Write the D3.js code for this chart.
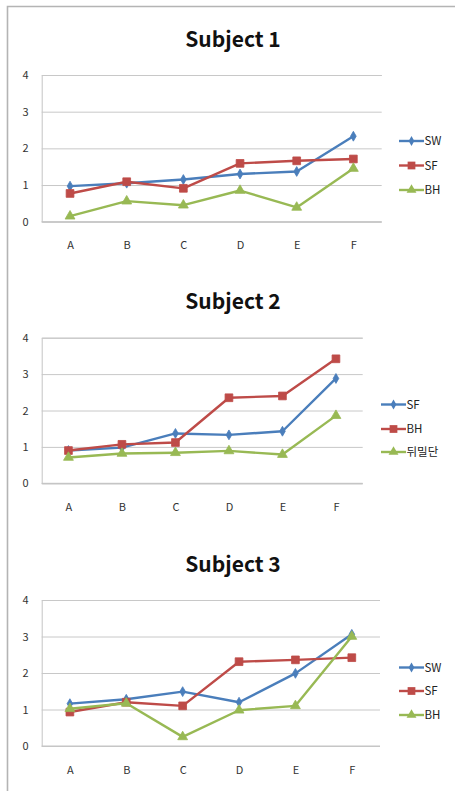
<!DOCTYPE html>
<html>
<head>
<meta charset="utf-8">
<script src="https://cdn.jsdelivr.net/npm/d3@7"></script>
<style>
  html, body { margin: 0; padding: 0; background: #fff; }
  svg { display: block; }
</style>
</head>
<body>
<svg id="chart" width="455" height="791"></svg>
<script>
// Shared axes
const categories = ["A", "B", "C", "D", "E", "F"];
const yTicks = [0, 1, 2, 3, 4];

// Subject 1
const title1 = "Subject 1";
const names1 = ["SW", "SF", "BH"];
const s1a = [0.97, 1.05, 1.15, 1.30, 1.37, 2.33];
const s1b = [0.77, 1.09, 0.91, 1.59, 1.66, 1.71];
const s1c = [0.15, 0.56, 0.45, 0.85, 0.39, 1.45];

// Subject 2
const title2 = "Subject 2";
const names2 = ["SF", "BH", "뒤밀단"];
const s2a = [0.90, 0.98, 1.37, 1.33, 1.43, 2.88];
const s2b = [0.90, 1.07, 1.12, 2.35, 2.40, 3.42];
const s2c = [0.71, 0.82, 0.84, 0.89, 0.79, 1.86];

// Subject 3
const title3 = "Subject 3";
const names3 = ["SW", "SF", "BH"];
const s3a = [1.16, 1.28, 1.49, 1.20, 1.99, 3.06];
const s3b = [0.93, 1.20, 1.10, 2.31, 2.36, 2.42];
const s3c = [1.02, 1.17, 0.25, 0.98, 1.10, 3.00];

const colors = ["#4a7ebb", "#be4b48", "#98b954"];
const symbols = [d3.symbolDiamond, d3.symbolSquare, d3.symbolTriangle];
const symbolSizes = [28, 60, 42];

const svg = d3.select("#chart");

// outer frame (top and left edges)
svg.append("path")
  .attr("d", "M7.5,791 V6.5 H455")
  .attr("fill", "none")
  .attr("stroke", "#b4b4b4")
  .attr("stroke-width", 1.6);

const panels = [
  { title: title1, names: names1, series: [s1a, s1b, s1c],
    x0: 41.7, x1: 381.7, yBottom: 221.7, yTop: 75, titleY: 46.7,
    legendX: 399, legendY: [141, 165.5, 190] },
  { title: title2, names: names2, series: [s2a, s2b, s2c],
    x0: 41.7, x1: 362.7, yBottom: 483.3, yTop: 337.7, titleY: 309.3,
    legendX: 381, legendY: [404.5, 429, 452] },
  { title: title3, names: names3, series: [s3a, s3b, s3c],
    x0: 41.7, x1: 380, yBottom: 746, yTop: 600, titleY: 571.7,
    legendX: 399, legendY: [667.5, 691, 715] }
];

const font = "'Noto Sans CJK KR', 'Noto Sans', sans-serif";

panels.forEach(p => {
  const g = svg.append("g");

  const x = d3.scalePoint().domain(categories).range([p.x0, p.x1]).padding(0.5);
  const y = d3.scaleLinear().domain([0, 4]).range([p.yBottom, p.yTop]);

  // title
  g.append("text")
    .attr("x", 233).attr("y", p.titleY)
    .attr("text-anchor", "middle")
    .attr("font-family", font)
    .attr("font-weight", 700)
    .attr("font-size", 21)
    .attr("fill", "#111")
    .text(p.title);

  // horizontal gridlines + y axis
  const yAxis = d3.axisLeft(y).tickValues(yTicks).tickSize(-(p.x1 - p.x0)).tickPadding(13)
    .tickFormat(d3.format("d"));
  const ya = g.append("g").attr("transform", `translate(${p.x0},0)`).call(yAxis);
  ya.select(".domain").attr("stroke", "#c4c4c4");
  ya.selectAll(".tick line").attr("stroke", "#c8c8c8").attr("stroke-width", 1);
  ya.selectAll(".tick text")
    .attr("font-family", font).attr("font-size", 11).attr("fill", "#333");

  // x axis labels
  const xAxis = d3.axisBottom(x).tickSize(0).tickPadding(20);
  const xa = g.append("g").attr("transform", `translate(0,${p.yBottom})`).call(xAxis);
  xa.select(".domain").attr("stroke", "#c4c4c4").attr("d", `M${p.x0},0H${p.x1}`);
  xa.selectAll(".tick text")
    .attr("font-family", font).attr("font-size", 11).attr("fill", "#333");

  const line = d3.line().x((d, i) => x(categories[i])).y(d => y(d));

  p.series.forEach((vals, si) => {
    g.append("path")
      .datum(vals)
      .attr("d", line)
      .attr("fill", "none")
      .attr("stroke", colors[si])
      .attr("stroke-width", 2.4)
      .attr("stroke-linejoin", "round");
    g.selectAll(null)
      .data(vals)
      .enter().append("path")
      .attr("transform", (d, i) => `translate(${x(categories[i])},${y(d)})`)
      .attr("d", d3.symbol().type(symbols[si]).size(symbolSizes[si]))
      .attr("fill", colors[si])
      .attr("stroke", colors[si])
      .attr("stroke-width", 0.8);
  });

  // legend
  p.names.forEach((name, si) => {
    const ly = p.legendY[si];
    g.append("line")
      .attr("x1", p.legendX).attr("x2", p.legendX + 25)
      .attr("y1", ly).attr("y2", ly)
      .attr("stroke", colors[si]).attr("stroke-width", 2.4);
    g.append("path")
      .attr("transform", `translate(${p.legendX + 12.5},${ly})`)
      .attr("d", d3.symbol().type(symbols[si]).size(symbolSizes[si]))
      .attr("fill", colors[si]);
    g.append("text")
      .attr("x", p.legendX + 25.5).attr("y", ly)
      .attr("dy", "0.35em")
      .attr("font-family", font).attr("font-size", 11.5).attr("fill", "#222")
      .text(name);
  });
});
</script>
</body>
</html>
